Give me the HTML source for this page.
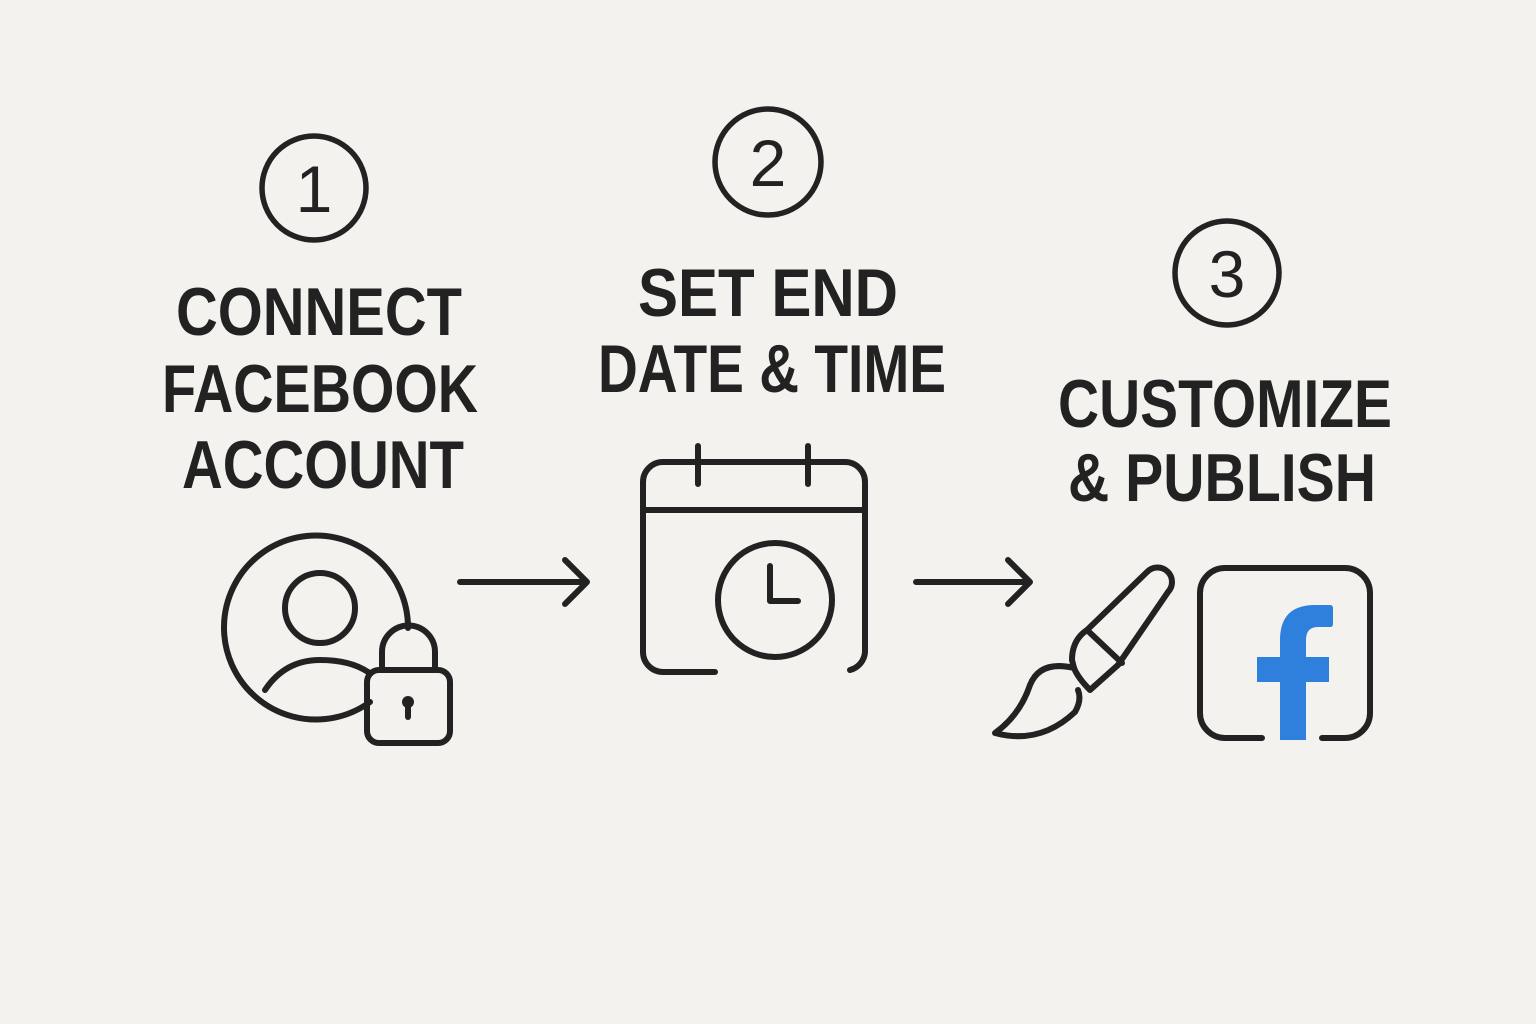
<!DOCTYPE html>
<html><head><style>
html,body{margin:0;padding:0;background:#f4f2ee;}
svg{display:block}
text{font-family:"Liberation Sans",sans-serif;font-weight:bold;fill:#222;}
</style></head><body>
<svg width="1536" height="1024" viewBox="0 0 1536 1024" xmlns="http://www.w3.org/2000/svg">
<rect width="1536" height="1024" fill="#f4f2ee"/>
<g fill="none" stroke="#222" stroke-width="5.5" stroke-linecap="round" stroke-linejoin="round">
<circle cx="314" cy="188" r="52"/>
<circle cx="768" cy="162" r="53"/>
<circle cx="1227" cy="273" r="52"/>
</g>
<text x="314" y="212" font-size="66" text-anchor="middle" style="font-weight:normal">1</text>
<text x="768" y="186" font-size="66" text-anchor="middle" style="font-weight:normal">2</text>
<text x="1227" y="297" font-size="66" text-anchor="middle" style="font-weight:normal">3</text>

<g font-size="68">
<text x="176" y="335" textLength="286" lengthAdjust="spacingAndGlyphs">CONNECT</text>
<text x="162" y="412" textLength="316" lengthAdjust="spacingAndGlyphs">FACEBOOK</text>
<text x="182" y="488" textLength="282" lengthAdjust="spacingAndGlyphs">ACCOUNT</text>
<text x="638" y="316" textLength="260" lengthAdjust="spacingAndGlyphs">SET END</text>
<text x="598" y="392" textLength="348" lengthAdjust="spacingAndGlyphs">DATE &amp; TIME</text>
<text x="1058" y="427" textLength="334" lengthAdjust="spacingAndGlyphs">CUSTOMIZE</text>
<text x="1068" y="501" textLength="308" lengthAdjust="spacingAndGlyphs">&amp; PUBLISH</text>
</g>

<g fill="none" stroke="#222" stroke-width="6" stroke-linecap="round" stroke-linejoin="round">
<path d="M370 702 A92 92 0 1 1 408 628"/>
<circle cx="320" cy="608" r="35"/>
<path d="M265 690 Q285 660 320 660 Q350 660 368 672"/>
<rect x="367" y="670" width="83" height="73" rx="12"/>
<path d="M382 670 V652 A26 26 0 0 1 435 652 V670"/>
<path d="M460 582 H585 M565 560 L587 582 L565 604"/>
<path d="M916 582 H1028 M1008 560 L1030 582 L1008 604"/>
<path d="M715 672 H663 A20 20 0 0 1 643 652 V482 A20 20 0 0 1 663 462 H845 A20 20 0 0 1 865 482 V652 A20 20 0 0 1 850 670"/>
<path d="M643 510 H865"/>
<path d="M698 446 V484 M808 446 V484"/>
<circle cx="775" cy="600" r="57"/>
<path d="M770 566 V601 H798"/>
<path d="M1087 630 L1147 572 A14 14 0 0 1 1168 592 L1118 665"/>
<path d="M1087 630 L1122 663"/>
<path d="M1087 630 Q1072 640 1072 660 L1074 668 Q1078 678 1090 690 L1118 665"/>
<path d="M1074 668 Q1040 660 1030 685 Q1020 715 995 733 Q1040 745 1075 712 Q1082 700 1078 690"/>
<path d="M1262 738 H1225 A25 25 0 0 1 1200 713 V593 A25 25 0 0 1 1225 568 H1345 A25 25 0 0 1 1370 593 V713 A25 25 0 0 1 1345 738 H1322"/>
</g>
<circle cx="408" cy="702" r="6" fill="#222"/>
<rect x="405" y="702" width="6" height="18" rx="3" fill="#222"/>
<path fill="#2f7fdc" d="M1280 740 V682 H1257 V657 H1280 V640 Q1280 605 1315 605 H1330 Q1333 605 1333 608 V624 Q1333 627 1330 627 H1318 Q1306 627 1306 640 V657 H1329 V682 H1306 V740 Z"/>
</svg>
</body></html>
